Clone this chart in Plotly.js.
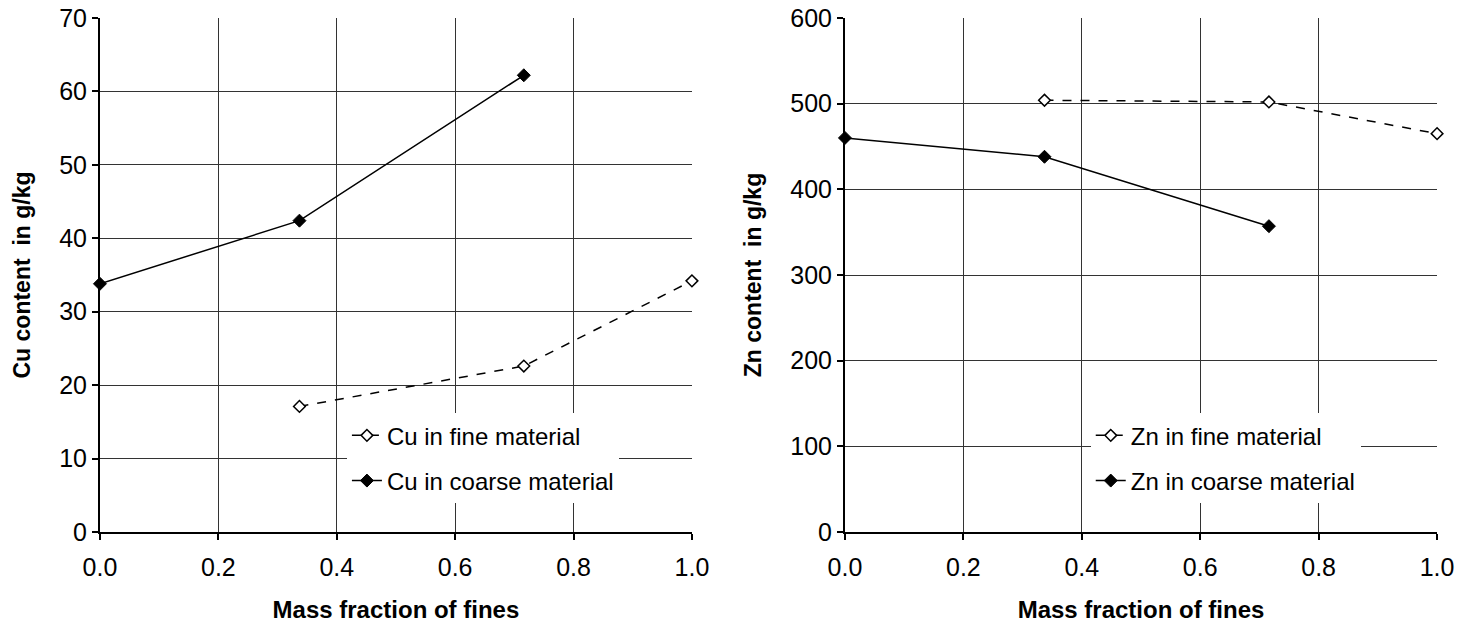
<!DOCTYPE html>
<html>
<head>
<meta charset="utf-8">
<script src="https://cdn.plot.ly/plotly-3.0.1.min.js"></script>
<style>
html,body{margin:0;padding:0;background:#fff;}
#chart{width:1470px;height:623px;}
</style>
</head>
<body>
<div id="chart"></div>
<script>
// Data
var cuFineX = [0.337, 0.716, 1.0];
var cuFine = [17.1, 22.6, 34.2];
var cuCoarseX = [0.0, 0.337, 0.716];
var cuCoarse = [33.8, 42.4, 62.2];
var znFineX = [0.337, 0.716, 1.0];
var znFine = [504, 502, 465];
var znCoarseX = [0.0, 0.337, 0.716];
var znCoarse = [460, 438, 357];
var xTitle = 'Mass fraction of fines';
var cuTitle = 'Cu content&nbsp; in g/kg';
var znTitle = 'Zn content&nbsp; in g/kg';

var FONT = 'Arial, Liberation Sans, sans-serif';
var openMarker = {symbol:'diamond', size:9, color:'#fff', line:{color:'#000', width:1.5}};
var fillMarker = {symbol:'diamond', size:10, color:'#000', line:{color:'#000', width:1}};

var traces = [
  {x:cuFineX, y:cuFine, name:'Cu in fine material', mode:'lines+markers', xaxis:'x', yaxis:'y',
   line:{color:'#000', width:1.5, dash:'dash'}, marker:openMarker, legend:'legend', legendgroup:'a', cliponaxis:false},
  {x:cuCoarseX, y:cuCoarse, name:'Cu in coarse material', mode:'lines+markers', xaxis:'x', yaxis:'y',
   line:{color:'#000', width:1.5}, marker:fillMarker, legend:'legend', legendgroup:'b', cliponaxis:false},
  {x:znFineX, y:znFine, name:'Zn in fine material', mode:'lines+markers', xaxis:'x2', yaxis:'y2',
   line:{color:'#000', width:1.5, dash:'dash'}, marker:openMarker, legend:'legend2', legendgroup:'c', cliponaxis:false},
  {x:znCoarseX, y:znCoarse, name:'Zn in coarse material', mode:'lines+markers', xaxis:'x2', yaxis:'y2',
   line:{color:'#000', width:1.5}, marker:fillMarker, legend:'legend2', legendgroup:'d', cliponaxis:false}
];

function xax(domain, anchor){
  return {domain:domain, anchor:anchor, range:[0,1], dtick:0.2, tick0:0, tickformat:'.1f',
    showline:true, linecolor:'#000', linewidth:2, ticks:'outside', ticklen:6, tickwidth:2, tickcolor:'#000',
    ticklabelstandoff:6,
    showgrid:true, gridcolor:'#333', gridwidth:1, zeroline:false,
    tickfont:{family:FONT, size:25, color:'#000'},
    title:{text:'<b>'+xTitle+'</b>', font:{family:FONT, size:24, color:'#000'}, standoff:26}};
}
function yax(anchor, range, dtick, title){
  return {anchor:anchor, domain:[0,1], range:range, dtick:dtick, tick0:0,
    showline:true, linecolor:'#000', linewidth:2, ticks:'outside', ticklen:6, tickwidth:2, tickcolor:'#000',
    showgrid:true, gridcolor:'#333', gridwidth:1, zeroline:false,
    tickfont:{family:FONT, size:25, color:'#000'},
    title:{text:'<b>'+title+'</b>', font:{family:FONT, size:23, color:'#000'}, standoff:22}};
}

var legendCommon = {bgcolor:'#fff', borderwidth:0, font:{family:FONT, size:24, color:'#000'},
  tracegroupgap:11, itemwidth:30, xanchor:'left', yanchor:'top', traceorder:'grouped'};

var layout = {
  width:1470, height:623,
  margin:{l:0, r:0, t:18, b:91},
  paper_bgcolor:'#fff', plot_bgcolor:'#fff',
  font:{family:FONT, color:'#000'},
  xaxis:xax([0.068, 0.4707], 'y'),
  yaxis:yax('x', [0,70], 10, cuTitle),
  xaxis2:xax([0.5748, 0.9776], 'y2'),
  yaxis2:yax('x2', [0,600], 100, znTitle),
  legend:Object.assign({}, legendCommon, {x:0.236, y:0.231}),
  legend2:Object.assign({}, legendCommon, {x:0.742, y:0.231}),
  showlegend:true
};

Plotly.newPlot('chart', traces, layout, {displayModeBar:false, staticPlot:true});
</script>
</body>
</html>
